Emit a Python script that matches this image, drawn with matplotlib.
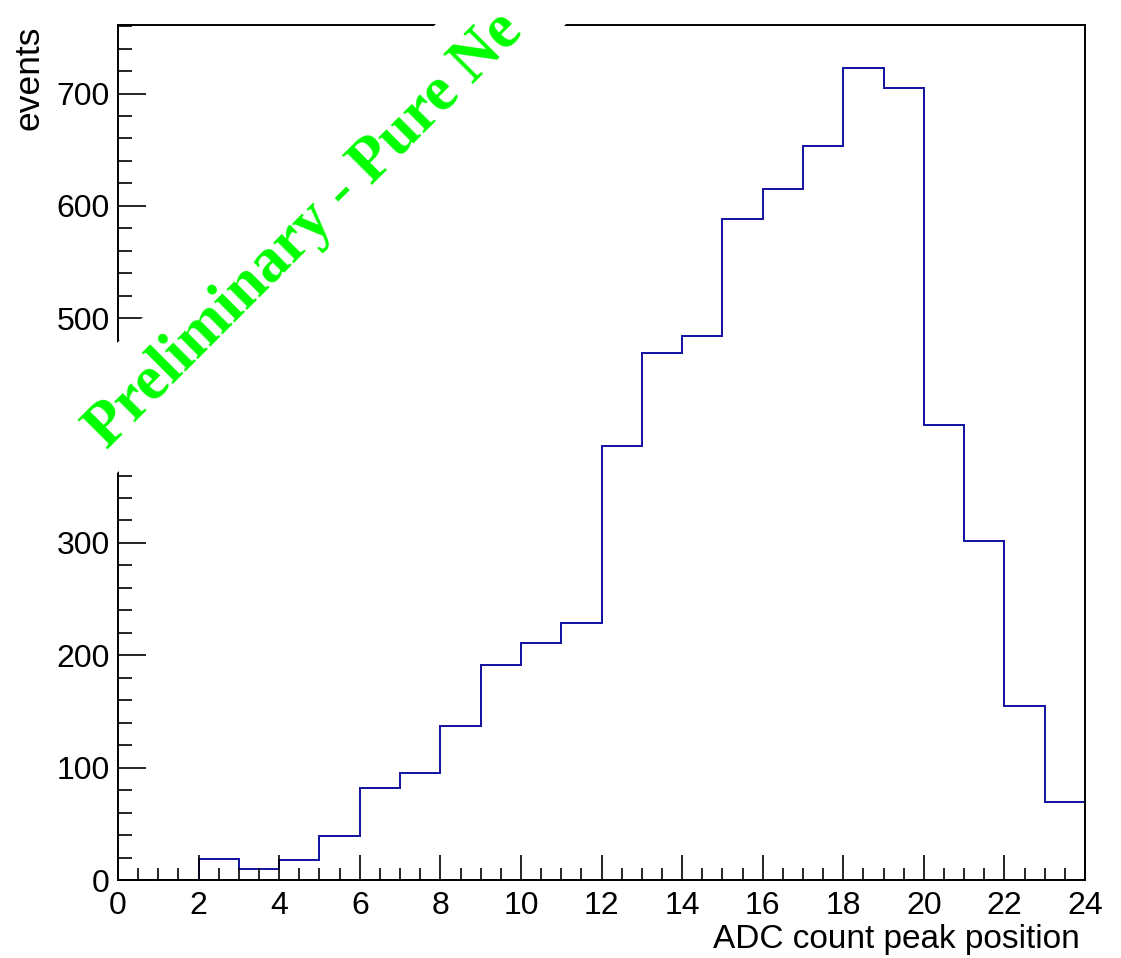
import matplotlib
matplotlib.use("Agg")
import matplotlib.pyplot as plt
import matplotlib.transforms as mtransforms
from matplotlib.patches import Rectangle
from matplotlib.ticker import MultipleLocator
import numpy as np

# histogram: ADC count peak position, unit-width bins 0..24
bin_edges = list(range(0, 25))
counts = [0, 0, 19, 10, 18, 39, 82, 95, 137, 191, 211, 229,
          386, 469, 484, 588, 615, 653, 723, 705, 405, 302, 155, 69]

plt.rcParams['font.family'] = ['Liberation Sans', 'DejaVu Sans']

fig = plt.figure(figsize=(11.21, 9.58), dpi=100)
ax = fig.add_axes([0.1053, 0.0814, 0.8626, 0.8925])

ax.stairs(counts, bin_edges, baseline=0, fill=False, color='#1010a0', linewidth=1.4)

ax.set_xlim(0, 24)
ax.set_ylim(0, 761)

ax.xaxis.set_major_locator(MultipleLocator(2))
ax.xaxis.set_minor_locator(MultipleLocator(0.5))
ax.yaxis.set_major_locator(MultipleLocator(100))
ax.yaxis.set_minor_locator(MultipleLocator(20))

ax.tick_params(axis='both', which='both', direction='in', top=False, right=False,
               labelsize=23, width=1.2, color='black')
ax.tick_params(axis='x', which='major', length=18, pad=8)
ax.tick_params(axis='x', which='minor', length=9)
ax.tick_params(axis='y', which='major', length=20, pad=6)
ax.tick_params(axis='y', which='minor', length=10)
for s in ax.spines.values():
    s.set_linewidth(1.4)

ax.set_xlabel('ADC count peak position', fontsize=24, ha='right')
ax.xaxis.set_label_coords(0.9948, -0.052, transform=ax.transAxes)
ax.xaxis.label.set_va('top')
ax.set_ylabel('events', fontsize=25.5, ha='right')
ax.yaxis.set_label_coords(-0.0755, 0.999, transform=ax.transAxes)

# white band behind the watermark (hides frame and labels underneath)
band = Rectangle((-340, -46), 680, 92, facecolor='white', edgecolor='none', zorder=9,
                 transform=mtransforms.Affine2D().rotate_deg(45).translate(300, 958 - 225))
fig.add_artist(band)

fig.text(305 / 1121, 1 - 231 / 958, 'Preliminary - Pure Ne', rotation=45,
         family=['Liberation Serif', 'DejaVu Serif'], fontweight='bold',
         fontsize=45, color='#00ff00', ha='center', va='center',
         rotation_mode='anchor', zorder=10)

fig.savefig('out.png', dpi=100)
